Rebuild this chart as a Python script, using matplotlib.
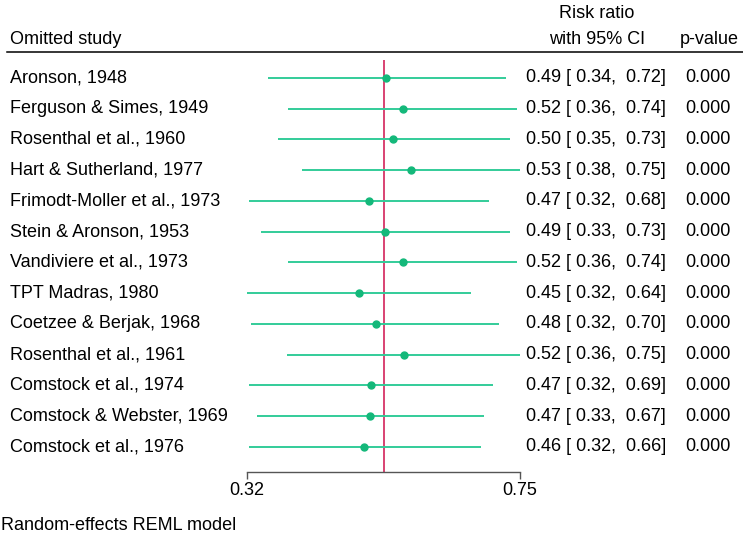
import numpy as np
import matplotlib
matplotlib.use("Agg")
import matplotlib.pyplot as plt
from matplotlib.lines import Line2D
from matplotlib.transforms import blended_transform_factory

plt.rcParams["font.family"] = ["Liberation Sans", "DejaVu Sans"]

studies = ["Aronson, 1948", "Ferguson & Simes, 1949", "Rosenthal et al., 1960",
           "Hart & Sutherland, 1977", "Frimodt-Moller et al., 1973",
           "Stein & Aronson, 1953", "Vandiviere et al., 1973", "TPT Madras, 1980",
           "Coetzee & Berjak, 1968", "Rosenthal et al., 1961",
           "Comstock et al., 1974", "Comstock & Webster, 1969",
           "Comstock et al., 1976"]
rr = [0.494, 0.520, 0.504, 0.533, 0.468, 0.492, 0.520, 0.454, 0.478, 0.522,
      0.471, 0.470, 0.461]
lo = [0.342, 0.364, 0.352, 0.380, 0.322, 0.334, 0.364, 0.320, 0.324, 0.363,
      0.322, 0.330, 0.322]
hi = [0.718, 0.743, 0.727, 0.750, 0.681, 0.727, 0.743, 0.644, 0.702, 0.749,
      0.689, 0.670, 0.664]
pval = [0.000] * 13
overall = 0.491

W, H = 743, 537
LINE = "#33CC99"
DOT = "#14B87A"
RED = "#D0104C"
FS = 13

fig = plt.figure(figsize=(W / 100, H / 100), dpi=100)
x0, x1 = 247, 520
ytop, ybot = 60, 472
ax = fig.add_axes([x0 / W, 1 - ybot / H, (x1 - x0) / W, (ybot - ytop) / H])
ax.set_xscale("log")
ax.set_xlim(0.32, 0.75)
n = len(studies)
ax.set_ylim(n - 1 + 0.813, -0.585)
ypos = np.arange(n)

ax.hlines(ypos, lo, hi, color=LINE, lw=1.4, zorder=2)
ax.plot(rr, ypos, "o", color=DOT, ms=5, zorder=3)
ax.axvline(overall, color=RED, lw=1.1, zorder=1)

for s in ["top", "right", "left"]:
    ax.spines[s].set_visible(False)
ax.spines["bottom"].set_color("#555555")
ax.spines["bottom"].set_linewidth(1.0)
ax.set_yticks([])
ax.set_xticks([0.32, 0.75])
ax.set_xticklabels(["0.32", "0.75"], fontsize=FS)
ax.xaxis.set_minor_locator(matplotlib.ticker.NullLocator())
ax.tick_params(axis="x", length=5, width=1.0, color="#555555", pad=2)

tr = blended_transform_factory(fig.transFigure, ax.transData)
for i in range(n):
    ax.text(10 / W, i, studies[i], transform=tr, fontsize=FS, va="center", ha="left")
    ax.text(666 / W, i, f"{rr[i]:.2f} [ {lo[i]:.2f},  {hi[i]:.2f}]", transform=tr,
            fontsize=FS, va="center", ha="right")
    ax.text(731 / W, i, f"{pval[i]:.3f}", transform=tr, fontsize=FS,
            va="center", ha="right")

fig.text(10 / W, 1 - 39 / H, "Omitted study", fontsize=FS, va="center", ha="left")
fig.text(597 / W, 1 - 14 / H, "Risk ratio", fontsize=FS, va="center", ha="center")
fig.text(597 / W, 1 - 39 / H, "with 95% CI", fontsize=FS, va="center", ha="center")
fig.text(739 / W, 1 - 39 / H, "p-value", fontsize=FS, va="center", ha="right")
fig.add_artist(Line2D([7 / W, 1], [1 - 52 / H, 1 - 52 / H], color="black", lw=1.1,
                      transform=fig.transFigure))
fig.text(1 / W, 1 - 526 / H, "Random-effects REML model", fontsize=FS,
         va="center", ha="left")

fig.savefig("out.png", dpi=100, facecolor="white")
